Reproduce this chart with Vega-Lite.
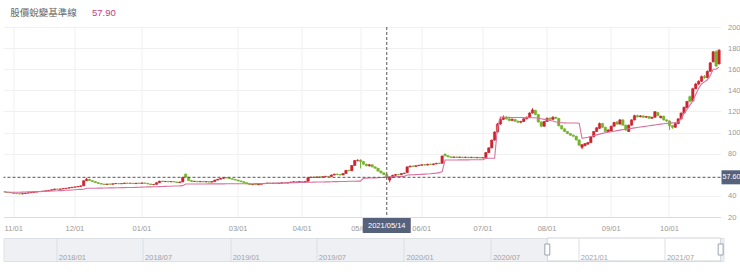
{
"$schema": "https://vega.github.io/schema/vega-lite/v6.json",
"background": "white",
"padding": {"left": 2.5, "top": 8, "right": 0, "bottom": 0},
"spacing": 4,
"config": {"view": {"stroke": null}, "font": "Liberation Sans", "axis": {"labelFont": "Liberation Sans", "labelFontSize": 7.5, "labelColor": "#999999", "domain": false, "ticks": false, "tickSize": 0, "gridColor": "#eff0f2", "labelOverlap": false}, "axisY": {"labelOverlap": false}},
"datasets": {
"k": [
{"d":"2020-10-28","o":44.0,"h":44.3,"l":43.3,"c":43.6,"b":43.4},
{"d":"2020-10-29","o":43.6,"h":43.9,"l":43.0,"c":43.2,"b":43.4},
{"d":"2020-10-30","o":43.2,"h":43.5,"l":42.5,"c":42.8,"b":43.4},
{"d":"2020-11-02","o":42.8,"h":43.0,"l":42.0,"c":42.3,"b":43.4},
{"d":"2020-11-03","o":42.3,"h":42.6,"l":41.8,"c":42.0,"b":43.5},
{"d":"2020-11-04","o":42.0,"h":42.3,"l":41.5,"c":41.8,"b":43.5},
{"d":"2020-11-05","o":41.8,"h":42.4,"l":41.6,"c":42.2,"b":43.6},
{"d":"2020-11-06","o":42.2,"h":42.8,"l":42.0,"c":42.6,"b":43.7},
{"d":"2020-11-09","o":42.6,"h":43.2,"l":42.4,"c":43.0,"b":43.8},
{"d":"2020-11-10","o":43.0,"h":43.5,"l":42.8,"c":43.3,"b":43.9},
{"d":"2020-11-11","o":43.3,"h":43.8,"l":43.1,"c":43.6,"b":44.0},
{"d":"2020-11-12","o":43.6,"h":44.1,"l":43.4,"c":43.9,"b":44.1},
{"d":"2020-11-13","o":43.9,"h":44.4,"l":43.7,"c":44.2,"b":44.2},
{"d":"2020-11-16","o":44.2,"h":44.7,"l":44.0,"c":44.5,"b":44.3},
{"d":"2020-11-17","o":44.5,"h":45.0,"l":44.3,"c":44.8,"b":44.4},
{"d":"2020-11-18","o":44.8,"h":45.6,"l":44.6,"c":45.3,"b":44.5},
{"d":"2020-11-19","o":45.3,"h":46.2,"l":45.1,"c":45.8,"b":44.6},
{"d":"2020-11-20","o":45.8,"h":46.8,"l":45.6,"c":46.5,"b":44.7},
{"d":"2020-11-23","o":46.5,"h":46.8,"l":45.9,"c":46.2,"b":44.8},
{"d":"2020-11-24","o":46.2,"h":46.9,"l":46.0,"c":46.6,"b":45.0},
{"d":"2020-11-25","o":46.6,"h":47.3,"l":46.4,"c":47.0,"b":45.1},
{"d":"2020-11-26","o":47.0,"h":47.5,"l":46.8,"c":47.3,"b":45.3},
{"d":"2020-11-27","o":47.3,"h":48.1,"l":47.1,"c":47.8,"b":45.4},
{"d":"2020-11-30","o":47.8,"h":48.5,"l":47.6,"c":48.2,"b":45.6},
{"d":"2020-12-01","o":48.2,"h":48.8,"l":48.0,"c":48.5,"b":45.8},
{"d":"2020-12-02","o":48.5,"h":49.2,"l":48.3,"c":48.9,"b":46.0},
{"d":"2020-12-03","o":48.9,"h":49.9,"l":48.7,"c":49.5,"b":46.2},
{"d":"2020-12-04","o":49.5,"h":54.6,"l":49.3,"c":54.4,"b":46.3},
{"d":"2020-12-07","o":54.4,"h":57.2,"l":54.0,"c":55.8,"b":47.2},
{"d":"2020-12-08","o":55.8,"h":56.0,"l":54.2,"c":54.5,"b":47.2},
{"d":"2020-12-09","o":54.5,"h":54.8,"l":53.3,"c":53.6,"b":47.3},
{"d":"2020-12-10","o":53.6,"h":53.9,"l":52.3,"c":52.6,"b":47.3},
{"d":"2020-12-11","o":52.6,"h":53.0,"l":51.5,"c":51.8,"b":47.4},
{"d":"2020-12-14","o":51.8,"h":52.1,"l":50.8,"c":51.2,"b":47.4},
{"d":"2020-12-15","o":51.2,"h":51.5,"l":50.5,"c":50.8,"b":47.5},
{"d":"2020-12-16","o":50.8,"h":51.5,"l":50.6,"c":51.3,"b":47.5},
{"d":"2020-12-17","o":51.3,"h":51.6,"l":50.8,"c":51.0,"b":47.6},
{"d":"2020-12-18","o":51.0,"h":51.8,"l":50.8,"c":51.5,"b":47.6},
{"d":"2020-12-21","o":51.5,"h":52.2,"l":51.3,"c":51.8,"b":47.7},
{"d":"2020-12-22","o":51.8,"h":52.0,"l":51.2,"c":51.4,"b":47.7},
{"d":"2020-12-23","o":51.4,"h":52.0,"l":51.2,"c":51.7,"b":47.8},
{"d":"2020-12-24","o":51.7,"h":52.4,"l":51.5,"c":52.2,"b":47.8},
{"d":"2020-12-25","o":52.2,"h":52.4,"l":51.6,"c":51.9,"b":47.9},
{"d":"2020-12-28","o":51.9,"h":52.3,"l":51.7,"c":52.0,"b":48.0},
{"d":"2020-12-29","o":52.0,"h":52.2,"l":51.4,"c":51.6,"b":48.0},
{"d":"2020-12-30","o":51.6,"h":52.3,"l":51.4,"c":52.1,"b":48.1},
{"d":"2020-12-31","o":52.1,"h":52.4,"l":51.6,"c":51.8,"b":48.2},
{"d":"2021-01-04","o":51.8,"h":52.5,"l":51.6,"c":52.3,"b":48.3},
{"d":"2021-01-05","o":52.3,"h":52.5,"l":51.7,"c":51.9,"b":48.4},
{"d":"2021-01-06","o":51.9,"h":52.0,"l":51.0,"c":51.3,"b":48.5},
{"d":"2021-01-07","o":51.3,"h":51.5,"l":50.4,"c":50.7,"b":48.5},
{"d":"2021-01-08","o":50.7,"h":51.2,"l":50.3,"c":50.9,"b":48.6},
{"d":"2021-01-11","o":50.9,"h":52.8,"l":50.7,"c":52.5,"b":48.7},
{"d":"2021-01-12","o":52.5,"h":54.3,"l":52.3,"c":54.0,"b":48.8},
{"d":"2021-01-13","o":54.0,"h":54.3,"l":53.2,"c":53.5,"b":48.9},
{"d":"2021-01-14","o":53.5,"h":54.1,"l":53.2,"c":53.8,"b":49.0},
{"d":"2021-01-15","o":53.8,"h":54.0,"l":53.0,"c":53.3,"b":49.1},
{"d":"2021-01-18","o":53.3,"h":53.9,"l":53.0,"c":53.6,"b":49.2},
{"d":"2021-01-19","o":53.6,"h":53.8,"l":52.9,"c":53.2,"b":49.3},
{"d":"2021-01-20","o":53.2,"h":53.4,"l":52.3,"c":52.6,"b":49.4},
{"d":"2021-01-21","o":52.6,"h":53.5,"l":52.3,"c":53.2,"b":49.5},
{"d":"2021-01-22","o":53.2,"h":58.0,"l":53.0,"c":57.6,"b":49.7},
{"d":"2021-01-25","o":60.6,"h":61.2,"l":57.4,"c":57.8,"b":51.2},
{"d":"2021-01-26","o":57.8,"h":58.0,"l":54.2,"c":54.5,"b":51.2},
{"d":"2021-01-27","o":54.5,"h":55.0,"l":53.3,"c":53.6,"b":51.2},
{"d":"2021-01-28","o":53.6,"h":54.2,"l":53.3,"c":53.9,"b":51.3},
{"d":"2021-01-29","o":53.9,"h":54.1,"l":53.0,"c":53.3,"b":51.3},
{"d":"2021-02-01","o":53.3,"h":54.0,"l":53.0,"c":53.7,"b":51.3},
{"d":"2021-02-02","o":53.7,"h":53.9,"l":53.0,"c":53.2,"b":51.3},
{"d":"2021-02-03","o":53.2,"h":53.8,"l":53.0,"c":53.5,"b":51.3},
{"d":"2021-02-04","o":53.5,"h":53.7,"l":52.8,"c":53.0,"b":51.4},
{"d":"2021-02-05","o":53.0,"h":53.9,"l":52.8,"c":53.6,"b":51.4},
{"d":"2021-02-17","o":53.6,"h":55.3,"l":53.4,"c":55.0,"b":51.4},
{"d":"2021-02-18","o":55.0,"h":56.1,"l":54.8,"c":55.8,"b":51.4},
{"d":"2021-02-19","o":55.8,"h":56.9,"l":55.6,"c":56.6,"b":51.4},
{"d":"2021-02-22","o":56.6,"h":57.6,"l":56.3,"c":57.3,"b":51.4},
{"d":"2021-02-23","o":57.3,"h":57.8,"l":56.7,"c":57.0,"b":51.5},
{"d":"2021-02-24","o":57.0,"h":57.2,"l":56.0,"c":56.3,"b":51.5},
{"d":"2021-02-25","o":56.3,"h":56.5,"l":55.4,"c":55.7,"b":51.5},
{"d":"2021-02-26","o":55.7,"h":55.9,"l":54.7,"c":55.0,"b":51.5},
{"d":"2021-03-02","o":55.0,"h":55.2,"l":53.9,"c":54.2,"b":51.5},
{"d":"2021-03-03","o":54.2,"h":54.4,"l":53.1,"c":53.4,"b":51.5},
{"d":"2021-03-04","o":53.4,"h":53.6,"l":52.2,"c":52.5,"b":51.5},
{"d":"2021-03-05","o":52.5,"h":52.7,"l":51.2,"c":51.5,"b":51.5},
{"d":"2021-03-08","o":51.5,"h":51.7,"l":50.3,"c":50.6,"b":51.5},
{"d":"2021-03-09","o":50.6,"h":51.1,"l":50.2,"c":50.9,"b":51.5},
{"d":"2021-03-10","o":50.9,"h":51.1,"l":50.2,"c":50.5,"b":51.6},
{"d":"2021-03-11","o":50.5,"h":51.3,"l":50.3,"c":51.0,"b":51.7},
{"d":"2021-03-12","o":51.0,"h":51.7,"l":50.8,"c":51.5,"b":51.7},
{"d":"2021-03-15","o":51.5,"h":52.1,"l":51.3,"c":51.8,"b":51.8},
{"d":"2021-03-16","o":51.8,"h":52.5,"l":51.6,"c":52.2,"b":51.9},
{"d":"2021-03-17","o":52.2,"h":52.4,"l":51.7,"c":51.9,"b":52.0},
{"d":"2021-03-18","o":51.9,"h":52.4,"l":51.7,"c":52.1,"b":52.0},
{"d":"2021-03-19","o":52.1,"h":52.3,"l":51.5,"c":51.7,"b":52.1},
{"d":"2021-03-22","o":51.7,"h":52.3,"l":51.5,"c":52.0,"b":52.2},
{"d":"2021-03-23","o":52.0,"h":52.6,"l":51.8,"c":52.4,"b":52.2},
{"d":"2021-03-24","o":52.4,"h":52.6,"l":51.9,"c":52.1,"b":52.3},
{"d":"2021-03-25","o":52.1,"h":52.8,"l":51.9,"c":52.5,"b":52.4},
{"d":"2021-03-26","o":52.5,"h":53.4,"l":52.3,"c":53.1,"b":52.4},
{"d":"2021-03-29","o":53.1,"h":53.7,"l":52.9,"c":53.4,"b":52.5},
{"d":"2021-03-30","o":53.4,"h":53.7,"l":53.0,"c":53.2,"b":52.6},
{"d":"2021-03-31","o":53.2,"h":53.9,"l":53.0,"c":53.6,"b":52.7},
{"d":"2021-04-01","o":53.6,"h":53.9,"l":53.1,"c":53.4,"b":52.7},
{"d":"2021-04-06","o":53.4,"h":54.0,"l":53.2,"c":53.8,"b":52.8},
{"d":"2021-04-07","o":53.8,"h":57.6,"l":53.6,"c":57.3,"b":52.9},
{"d":"2021-04-08","o":57.3,"h":58.3,"l":57.0,"c":57.8,"b":52.9},
{"d":"2021-04-09","o":57.8,"h":58.2,"l":57.2,"c":57.5,"b":53.0},
{"d":"2021-04-12","o":57.5,"h":58.4,"l":57.2,"c":58.0,"b":53.1},
{"d":"2021-04-13","o":58.0,"h":58.6,"l":57.3,"c":57.6,"b":53.1},
{"d":"2021-04-14","o":57.6,"h":58.5,"l":57.4,"c":58.2,"b":53.2},
{"d":"2021-04-15","o":58.2,"h":59.0,"l":58.0,"c":58.5,"b":53.3},
{"d":"2021-04-16","o":58.5,"h":58.9,"l":58.0,"c":58.3,"b":53.3},
{"d":"2021-04-19","o":58.3,"h":60.2,"l":58.1,"c":59.8,"b":53.4},
{"d":"2021-04-20","o":59.8,"h":61.0,"l":59.5,"c":60.6,"b":53.5},
{"d":"2021-04-21","o":60.6,"h":61.2,"l":59.9,"c":60.2,"b":53.5},
{"d":"2021-04-22","o":60.2,"h":60.5,"l":59.4,"c":59.8,"b":53.6},
{"d":"2021-04-23","o":59.8,"h":61.5,"l":59.6,"c":61.2,"b":53.7},
{"d":"2021-04-26","o":61.2,"h":64.6,"l":61.0,"c":64.2,"b":53.7},
{"d":"2021-04-27","o":64.2,"h":64.8,"l":63.5,"c":63.8,"b":53.8},
{"d":"2021-04-28","o":63.8,"h":69.3,"l":63.6,"c":68.8,"b":53.9},
{"d":"2021-04-29","o":68.8,"h":74.0,"l":68.5,"c":73.5,"b":53.9},
{"d":"2021-04-30","o":73.5,"h":74.6,"l":72.6,"c":73.8,"b":54.0},
{"d":"2021-05-03","o":74.0,"h":74.6,"l":66.0,"c":72.5,"b":54.0},
{"d":"2021-05-04","o":72.5,"h":73.0,"l":69.5,"c":70.0,"b":56.7},
{"d":"2021-05-05","o":70.0,"h":70.5,"l":68.0,"c":68.5,"b":56.8},
{"d":"2021-05-06","o":68.5,"h":70.2,"l":67.8,"c":69.5,"b":56.9},
{"d":"2021-05-07","o":69.5,"h":69.8,"l":67.0,"c":67.5,"b":57.0},
{"d":"2021-05-10","o":67.5,"h":67.8,"l":65.8,"c":66.2,"b":57.1},
{"d":"2021-05-11","o":66.2,"h":66.5,"l":63.0,"c":63.5,"b":57.2},
{"d":"2021-05-12","o":63.5,"h":64.0,"l":61.2,"c":61.8,"b":57.4},
{"d":"2021-05-13","o":61.8,"h":62.3,"l":59.8,"c":60.2,"b":57.6},
{"d":"2021-05-14","o":60.0,"h":60.5,"l":56.5,"c":57.8,"b":57.9},
{"d":"2021-05-17","o":55.0,"h":58.0,"l":52.8,"c":57.5,"b":58.0},
{"d":"2021-05-18","o":57.5,"h":60.0,"l":57.2,"c":59.5,"b":58.1},
{"d":"2021-05-19","o":59.5,"h":60.8,"l":59.0,"c":60.2,"b":58.2},
{"d":"2021-05-20","o":60.2,"h":60.9,"l":59.6,"c":60.0,"b":58.3},
{"d":"2021-05-21","o":60.0,"h":61.5,"l":59.8,"c":61.2,"b":58.4},
{"d":"2021-05-24","o":61.2,"h":62.0,"l":60.8,"c":61.5,"b":58.5},
{"d":"2021-05-25","o":62.0,"h":67.9,"l":61.8,"c":67.5,"b":59.8},
{"d":"2021-05-26","o":67.5,"h":68.8,"l":67.0,"c":68.2,"b":59.9},
{"d":"2021-05-27","o":68.2,"h":68.9,"l":67.5,"c":67.9,"b":60.0},
{"d":"2021-05-28","o":67.9,"h":69.1,"l":67.6,"c":68.6,"b":60.1},
{"d":"2021-05-31","o":68.6,"h":69.5,"l":68.2,"c":69.0,"b":60.2},
{"d":"2021-06-01","o":69.0,"h":70.0,"l":68.7,"c":69.5,"b":60.4},
{"d":"2021-06-02","o":69.5,"h":70.2,"l":68.8,"c":69.2,"b":60.6},
{"d":"2021-06-03","o":69.2,"h":70.4,"l":68.9,"c":70.0,"b":60.8},
{"d":"2021-06-04","o":70.0,"h":70.5,"l":69.2,"c":69.6,"b":61.0},
{"d":"2021-06-07","o":69.6,"h":70.8,"l":69.3,"c":70.3,"b":61.3},
{"d":"2021-06-08","o":70.3,"h":71.3,"l":70.0,"c":70.9,"b":61.6},
{"d":"2021-06-09","o":70.9,"h":71.5,"l":70.2,"c":70.6,"b":62.0},
{"d":"2021-06-10","o":70.8,"h":78.2,"l":70.6,"c":77.8,"b":63.0},
{"d":"2021-06-11","o":79.5,"h":80.2,"l":77.6,"c":78.0,"b":74.0},
{"d":"2021-06-15","o":78.0,"h":78.5,"l":76.6,"c":77.0,"b":74.0},
{"d":"2021-06-16","o":77.0,"h":77.4,"l":76.1,"c":76.5,"b":74.0},
{"d":"2021-06-17","o":76.5,"h":77.3,"l":76.2,"c":76.9,"b":74.0},
{"d":"2021-06-18","o":76.9,"h":77.3,"l":76.0,"c":76.4,"b":74.0},
{"d":"2021-06-21","o":76.4,"h":77.2,"l":76.1,"c":76.8,"b":74.1},
{"d":"2021-06-22","o":76.8,"h":77.0,"l":75.9,"c":76.3,"b":74.1},
{"d":"2021-06-23","o":76.3,"h":77.1,"l":76.0,"c":76.7,"b":74.1},
{"d":"2021-06-24","o":76.7,"h":77.0,"l":75.8,"c":76.2,"b":74.1},
{"d":"2021-06-25","o":76.2,"h":77.0,"l":75.9,"c":76.6,"b":74.2},
{"d":"2021-06-28","o":76.6,"h":76.9,"l":75.8,"c":76.1,"b":74.2},
{"d":"2021-06-29","o":76.1,"h":76.9,"l":75.7,"c":76.5,"b":74.2},
{"d":"2021-06-30","o":76.5,"h":76.8,"l":75.6,"c":75.9,"b":74.2},
{"d":"2021-07-01","o":75.9,"h":76.6,"l":75.5,"c":76.2,"b":74.3},
{"d":"2021-07-02","o":76.2,"h":81.6,"l":76.0,"c":81.0,"b":75.5},
{"d":"2021-07-05","o":81.0,"h":86.0,"l":80.6,"c":85.5,"b":75.6},
{"d":"2021-07-06","o":85.5,"h":93.3,"l":85.0,"c":92.8,"b":75.7},
{"d":"2021-07-07","o":92.8,"h":101.2,"l":92.4,"c":100.5,"b":75.8},
{"d":"2021-07-08","o":100.5,"h":109.0,"l":100.0,"c":108.0,"b":105.0},
{"d":"2021-07-09","o":108.0,"h":115.0,"l":107.5,"c":112.5,"b":114.5},
{"d":"2021-07-12","o":112.5,"h":116.2,"l":111.8,"c":114.5,"b":114.5},
{"d":"2021-07-13","o":114.5,"h":115.5,"l":112.2,"c":113.0,"b":114.4},
{"d":"2021-07-14","o":113.0,"h":113.8,"l":110.5,"c":111.5,"b":114.4},
{"d":"2021-07-15","o":111.5,"h":113.5,"l":110.8,"c":112.5,"b":114.3},
{"d":"2021-07-16","o":112.5,"h":113.0,"l":110.0,"c":110.8,"b":114.3},
{"d":"2021-07-19","o":110.8,"h":111.5,"l":109.0,"c":109.8,"b":114.2},
{"d":"2021-07-20","o":109.8,"h":111.2,"l":108.8,"c":110.5,"b":114.2},
{"d":"2021-07-21","o":110.5,"h":113.5,"l":110.0,"c":113.0,"b":114.1},
{"d":"2021-07-22","o":113.0,"h":115.2,"l":112.5,"c":114.5,"b":114.1},
{"d":"2021-07-23","o":114.5,"h":119.2,"l":114.0,"c":118.5,"b":114.0},
{"d":"2021-07-26","o":118.5,"h":123.0,"l":118.0,"c":121.5,"b":114.0},
{"d":"2021-07-27","o":121.0,"h":121.5,"l":116.5,"c":117.0,"b":114.0},
{"d":"2021-07-28","o":117.0,"h":117.5,"l":109.5,"c":110.0,"b":113.5},
{"d":"2021-07-29","o":110.0,"h":110.5,"l":105.0,"c":106.0,"b":113.0},
{"d":"2021-07-30","o":106.0,"h":111.0,"l":105.5,"c":110.5,"b":112.5},
{"d":"2021-08-02","o":110.5,"h":114.2,"l":110.0,"c":113.5,"b":112.0},
{"d":"2021-08-03","o":113.5,"h":114.5,"l":112.0,"c":112.5,"b":111.5},
{"d":"2021-08-04","o":112.5,"h":115.5,"l":112.0,"c":114.5,"b":111.0},
{"d":"2021-08-05","o":114.5,"h":115.0,"l":112.8,"c":113.5,"b":110.0},
{"d":"2021-08-06","o":113.5,"h":113.8,"l":105.8,"c":106.5,"b":109.5},
{"d":"2021-08-09","o":106.5,"h":107.0,"l":103.0,"c":103.5,"b":109.3},
{"d":"2021-08-10","o":103.5,"h":104.0,"l":100.5,"c":101.0,"b":109.2},
{"d":"2021-08-11","o":101.0,"h":101.5,"l":98.5,"c":99.0,"b":109.1},
{"d":"2021-08-12","o":99.0,"h":99.5,"l":97.0,"c":97.5,"b":109.0},
{"d":"2021-08-13","o":97.5,"h":98.2,"l":96.0,"c":96.5,"b":109.0},
{"d":"2021-08-16","o":96.5,"h":97.0,"l":92.5,"c":93.0,"b":109.0},
{"d":"2021-08-17","o":93.0,"h":93.5,"l":87.5,"c":88.0,"b":108.9},
{"d":"2021-08-18","o":86.0,"h":89.0,"l":84.3,"c":88.5,"b":94.5},
{"d":"2021-08-19","o":87.5,"h":90.0,"l":87.0,"c":89.5,"b":95.0},
{"d":"2021-08-20","o":89.0,"h":91.0,"l":88.5,"c":90.5,"b":95.5},
{"d":"2021-08-23","o":90.5,"h":96.5,"l":90.0,"c":96.0,"b":96.2},
{"d":"2021-08-24","o":96.0,"h":101.5,"l":95.5,"c":101.0,"b":97.0},
{"d":"2021-08-25","o":101.0,"h":105.2,"l":100.5,"c":104.5,"b":97.8},
{"d":"2021-08-26","o":104.0,"h":109.5,"l":103.5,"c":108.5,"b":98.5},
{"d":"2021-08-27","o":108.5,"h":109.2,"l":104.5,"c":105.0,"b":99.2},
{"d":"2021-08-30","o":105.0,"h":105.5,"l":100.5,"c":101.0,"b":99.8},
{"d":"2021-08-31","o":101.0,"h":103.0,"l":100.5,"c":102.5,"b":100.3},
{"d":"2021-09-01","o":101.5,"h":106.5,"l":101.0,"c":106.0,"b":100.8},
{"d":"2021-09-02","o":106.0,"h":110.2,"l":105.5,"c":109.5,"b":101.3},
{"d":"2021-09-03","o":110.0,"h":111.0,"l":107.5,"c":108.0,"b":101.8},
{"d":"2021-09-06","o":108.0,"h":112.8,"l":107.5,"c":112.0,"b":102.3},
{"d":"2021-09-07","o":112.0,"h":112.5,"l":106.5,"c":107.0,"b":102.8},
{"d":"2021-09-08","o":107.0,"h":107.5,"l":101.5,"c":102.5,"b":103.2},
{"d":"2021-09-09","o":101.0,"h":107.5,"l":100.5,"c":107.0,"b":103.6},
{"d":"2021-09-10","o":107.0,"h":112.5,"l":106.5,"c":112.0,"b":104.0},
{"d":"2021-09-13","o":112.0,"h":116.8,"l":111.5,"c":116.0,"b":104.4},
{"d":"2021-09-14","o":116.0,"h":117.0,"l":114.2,"c":115.0,"b":104.8},
{"d":"2021-09-15","o":115.0,"h":116.5,"l":114.5,"c":115.8,"b":105.2},
{"d":"2021-09-16","o":115.8,"h":116.2,"l":114.0,"c":114.5,"b":105.6},
{"d":"2021-09-17","o":114.5,"h":115.8,"l":114.0,"c":115.2,"b":106.0},
{"d":"2021-09-22","o":115.2,"h":115.6,"l":113.0,"c":113.5,"b":106.4},
{"d":"2021-09-23","o":113.5,"h":115.0,"l":113.0,"c":114.5,"b":106.8},
{"d":"2021-09-24","o":114.5,"h":120.3,"l":114.0,"c":119.8,"b":107.2},
{"d":"2021-09-27","o":119.0,"h":119.5,"l":115.5,"c":116.0,"b":107.6},
{"d":"2021-09-28","o":114.0,"h":116.0,"l":113.5,"c":115.5,"b":108.0},
{"d":"2021-09-29","o":115.5,"h":116.0,"l":111.5,"c":112.0,"b":108.3},
{"d":"2021-09-30","o":112.0,"h":112.5,"l":110.0,"c":111.0,"b":108.6},
{"d":"2021-10-01","o":111.0,"h":111.5,"l":102.5,"c":106.5,"b":108.9},
{"d":"2021-10-04","o":106.5,"h":107.0,"l":103.5,"c":105.0,"b":109.2},
{"d":"2021-10-05","o":105.0,"h":109.0,"l":104.5,"c":108.5,"b":109.5},
{"d":"2021-10-06","o":108.5,"h":113.5,"l":108.0,"c":113.0,"b":110.0},
{"d":"2021-10-07","o":113.0,"h":119.0,"l":112.5,"c":118.5,"b":113.0},
{"d":"2021-10-08","o":118.5,"h":124.5,"l":118.0,"c":124.0,"b":118.0},
{"d":"2021-10-12","o":123.5,"h":130.0,"l":123.0,"c":129.5,"b":122.0},
{"d":"2021-10-13","o":134.0,"h":135.0,"l":128.5,"c":129.5,"b":126.0},
{"d":"2021-10-14","o":130.0,"h":142.5,"l":129.5,"c":141.5,"b":130.0},
{"d":"2021-10-15","o":141.5,"h":147.0,"l":141.0,"c":146.0,"b":136.0},
{"d":"2021-10-18","o":146.0,"h":149.5,"l":145.0,"c":148.5,"b":142.0},
{"d":"2021-10-19","o":148.5,"h":154.0,"l":148.0,"c":153.0,"b":146.0},
{"d":"2021-10-20","o":153.0,"h":154.5,"l":151.0,"c":152.0,"b":148.0},
{"d":"2021-10-21","o":152.0,"h":158.8,"l":151.5,"c":158.0,"b":150.0},
{"d":"2021-10-22","o":158.0,"h":166.8,"l":157.5,"c":166.0,"b":154.0},
{"d":"2021-10-25","o":167.0,"h":177.2,"l":166.5,"c":176.5,"b":160.0},
{"d":"2021-10-26","o":176.5,"h":178.0,"l":162.0,"c":163.0,"b":160.0},
{"d":"2021-10-27","o":165.0,"h":179.0,"l":164.5,"c":178.0,"b":162.0}
],
"cross": [{"d":"2021-05-14","v":57.6,"b":57.9,"t":"2021/05/14","name":"股價蛻變基準線"}],
"win": [{"s":"2020-10-28","e":"2021-10-27"}],
"hd": [{"t":"2020-10-28"},{"t":"2021-10-27"}]
},
"vconcat": [
{
"width": 717, "height": 190,
"layer": [
{"data": {"name": "k"}, "mark": {"type": "rule", "strokeWidth": 1},
 "encoding": {
  "x": {"field": "d", "type": "ordinal", "title": null, "scale": {"paddingInner": 0.15, "paddingOuter": 0.075},
        "axis": {"values": ["2020-11-02","2020-12-01","2021-01-04","2021-03-02","2021-04-01","2021-05-03","2021-06-01","2021-07-01","2021-08-02","2021-09-01","2021-10-01"],
                 "labelExpr": "substring(datum.value,5,7)+'/01'", "grid": true, "bandPosition": 0.5, "domain": true, "domainColor": "#dcdcdc", "labelAngle": 0, "labelPadding": 7, "labelOverlap": false}},
  "y": {"field": "l", "type": "quantitative", "title": null, "scale": {"domain": [20, 200], "nice": false, "zero": false},
        "axis": {"orient": "right", "values": [20,40,80,100,120,140,160,180,200], "grid": true, "labelPadding": 7, "labelBaseline": "middle", "labelOverlap": false}},
  "y2": {"field": "h"},
  "color": {"condition": {"test": "datum.c >= datum.o", "value": "#cc2530"}, "value": "#74b32b"}
 }},
{"data": {"name": "k"}, "mark": {"type": "bar", "strokeWidth": 0.5},
 "encoding": {
  "x": {"field": "d", "type": "ordinal", "title": null},
  "y": {"field": "o", "type": "quantitative", "title": null, "axis": {"orient": "right", "values": [20,40,80,100,120,140,160,180,200], "grid": true, "labelPadding": 7, "labelBaseline": "middle", "labelOverlap": false}},
  "y2": {"field": "c"},
  "color": {"condition": {"test": "datum.c >= datum.o", "value": "#cc2530"}, "value": "#74b32b"},
  "stroke": {"condition": {"test": "datum.c >= datum.o", "value": "#cc2530"}, "value": "#74b32b"}
 }},
{"data": {"name": "k"}, "mark": {"type": "line", "color": "#d8729c", "strokeWidth": 1.1},
 "encoding": {
  "x": {"field": "d", "type": "ordinal", "title": null},
  "y": {"field": "b", "type": "quantitative", "title": null, "axis": {"orient": "right", "values": [20,40,80,100,120,140,160,180,200], "grid": true, "labelPadding": 7, "labelBaseline": "middle", "labelOverlap": false}}
 }},
{"data": {"name": "cross"}, "mark": {"type": "rule", "color": "#555555", "strokeDash": [3, 2], "strokeWidth": 1},
 "encoding": {"y": {"field": "v", "type": "quantitative", "title": null, "axis": {"orient": "right", "values": [20,40,80,100,120,140,160,180,200], "grid": true, "labelPadding": 7, "labelBaseline": "middle", "labelOverlap": false}}}},
{"data": {"name": "cross"}, "mark": {"type": "rule", "color": "#555555", "strokeDash": [3, 2], "strokeWidth": 1},
 "encoding": {"x": {"field": "d", "type": "ordinal", "title": null}}},
{"data": {"name": "cross"}, "mark": {"type": "point", "shape": "M-1,-0.3125L1,-0.3125L1,0.3125L-1,0.3125Z", "size": 2304, "filled": true, "color": "#56627c", "opacity": 1, "yOffset": 8.5},
 "encoding": {"x": {"field": "d", "type": "ordinal", "title": null}, "y": {"value": "height"}}},
{"data": {"name": "cross"}, "mark": {"type": "text", "color": "white", "fontSize": 7.5, "baseline": "middle", "align": "center", "yOffset": 8.5},
 "encoding": {"x": {"field": "d", "type": "ordinal", "title": null}, "y": {"value": "height"}, "text": {"field": "t"}}},
{"data": {"name": "cross"}, "mark": {"type": "point", "shape": "M-1,-0.54L1,-0.54L1,0.54L-1,0.54Z", "size": 676, "filled": true, "color": "#56627c", "opacity": 1, "xOffset": 14},
 "encoding": {"x": {"value": "width"}, "y": {"field": "v", "type": "quantitative", "title": null, "axis": {"orient": "right", "values": [20,40,80,100,120,140,160,180,200], "grid": true, "labelPadding": 7, "labelBaseline": "middle", "labelOverlap": false}}}},
{"data": {"name": "cross"}, "mark": {"type": "text", "color": "white", "fontSize": 7.2, "baseline": "middle", "align": "left", "dx": 2},
 "encoding": {"x": {"value": "width"}, "y": {"field": "v", "type": "quantitative", "title": null, "axis": {"orient": "right", "values": [20,40,80,100,120,140,160,180,200], "grid": true, "labelPadding": 7, "labelBaseline": "middle", "labelOverlap": false}}, "text": {"field": "v", "format": ".2f"}}},
{"data": {"name": "cross"}, "mark": {"type": "text", "color": "#666666", "fontSize": 9.5, "baseline": "middle", "align": "left", "font": "Liberation Sans, Noto Sans CJK TC"},
 "encoding": {"x": {"value": 6.8}, "y": {"value": -14}, "text": {"field": "name"}}},
{"data": {"name": "cross"}, "mark": {"type": "text", "color": "#c2417e", "fontSize": 9.5, "baseline": "middle", "align": "left"},
 "encoding": {"x": {"value": 88.5}, "y": {"value": -14}, "text": {"field": "b", "format": ".2f"}}}
]
},
{
"width": 720, "height": 23,
"view": {"fill": "#eef0f4", "stroke": "#dde1e6"},
"layer": [
{"data": {"name": "win"}, "mark": {"type": "rect", "fill": "white", "stroke": "#cfd4db", "strokeWidth": 1},
 "encoding": {
  "x": {"field": "s", "type": "temporal", "title": null,
        "scale": {"type": "utc", "domain": [{"year": 2017, "month": 9, "date": 12, "utc": true}, {"year": 2021, "month": 11, "date": 2, "utc": true}]},
        "axis": {"orient": "bottom", "values": [{"year":2018,"month":1,"date":1,"utc":true},{"year":2018,"month":7,"date":1,"utc":true},{"year":2019,"month":1,"date":1,"utc":true},{"year":2019,"month":7,"date":1,"utc":true},{"year":2020,"month":1,"date":1,"utc":true},{"year":2020,"month":7,"date":1,"utc":true},{"year":2021,"month":1,"date":1,"utc":true},{"year":2021,"month":7,"date":1,"utc":true}],
                 "format": "%Y/%m", "grid": true, "gridColor": "#dadee4", "labelAlign": "left", "labelBaseline": "alphabetic", "labelPadding": -2, "labelOffset": 2, "labelColor": "#a3a3a3", "labelFlush": false, "labelOverlap": false, "zindex": 1}},
  "x2": {"field": "e"}
 }},
{"data": {"name": "hd"}, "mark": {"type": "point", "shape": "M-0.45,-1L0.45,-1L0.45,1L-0.45,1Z", "size": 121, "filled": true, "fill": "white", "stroke": "#9aa3b0", "strokeWidth": 1, "opacity": 1},
 "encoding": {"x": {"field": "t", "type": "temporal", "title": null}}}
]
}
]
}
